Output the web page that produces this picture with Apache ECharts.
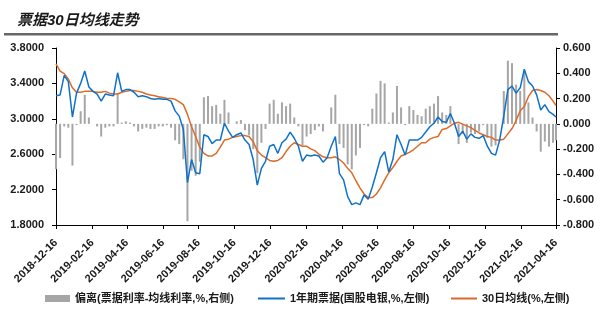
<!DOCTYPE html>
<html>
<head>
<meta charset="utf-8">
<style>
html,body{margin:0;padding:0;background:#fff;}
#chart{width:610px;height:322px;}
</style>
<script src="https://cdn.jsdelivr.net/npm/echarts@6/dist/echarts.min.js"></script>
</head>
<body>
<div id="chart"></div>
<script>
const dates = ['2018-12-16','2018-12-23','2018-12-30','2019-01-06','2019-01-13','2019-01-20','2019-01-27','2019-02-03','2019-02-10','2019-02-17','2019-02-24','2019-03-03','2019-03-10','2019-03-17','2019-03-24','2019-03-31','2019-04-07','2019-04-14','2019-04-21','2019-04-28','2019-05-05','2019-05-12','2019-05-19','2019-05-26','2019-06-02','2019-06-09','2019-06-16','2019-06-23','2019-06-30','2019-07-07','2019-07-14','2019-07-21','2019-07-28','2019-08-04','2019-08-11','2019-08-18','2019-08-25','2019-09-01','2019-09-08','2019-09-15','2019-09-22','2019-09-29','2019-10-06','2019-10-13','2019-10-20','2019-10-27','2019-11-03','2019-11-10','2019-11-17','2019-11-24','2019-12-01','2019-12-08','2019-12-15','2019-12-22','2019-12-29','2020-01-05','2020-01-12','2020-01-19','2020-01-26','2020-02-02','2020-02-09','2020-02-16','2020-02-23','2020-03-01','2020-03-08','2020-03-15','2020-03-22','2020-03-29','2020-04-05','2020-04-12','2020-04-19','2020-04-26','2020-05-03','2020-05-10','2020-05-17','2020-05-24','2020-05-31','2020-06-07','2020-06-14','2020-06-21','2020-06-28','2020-07-05','2020-07-12','2020-07-19','2020-07-26','2020-08-02','2020-08-09','2020-08-16','2020-08-23','2020-08-30','2020-09-06','2020-09-13','2020-09-20','2020-09-27','2020-10-04','2020-10-11','2020-10-18','2020-10-25','2020-11-01','2020-11-08','2020-11-15','2020-11-22','2020-11-29','2020-12-06','2020-12-13','2020-12-20','2020-12-27','2021-01-03','2021-01-10','2021-01-17','2021-01-24','2021-01-31','2021-02-07','2021-02-14','2021-02-21','2021-02-28','2021-03-07','2021-03-14','2021-03-21','2021-03-28','2021-04-04','2021-04-11','2021-04-16'];

// 1年期票据(国股电银,%,左侧)
const rate = [3.26,3.27,3.49,3.42,3.02,3.29,3.40,3.54,3.36,3.31,
3.28,3.20,3.28,3.27,3.26,3.52,3.31,3.33,3.33,3.30,
3.25,3.26,3.25,3.23,3.22,3.23,3.22,3.22,3.20,3.09,
3.03,2.88,2.28,2.54,2.39,2.38,2.82,2.80,2.72,2.76,
2.76,2.95,2.86,2.79,2.82,2.84,2.76,2.71,2.54,2.25,
2.44,2.52,2.69,2.71,2.61,2.73,2.77,2.85,2.78,2.69,
2.52,2.59,2.58,2.59,2.58,2.51,2.56,2.69,2.80,2.38,
2.31,2.12,2.03,2.05,2.03,2.14,2.09,2.23,2.39,2.56,
2.63,2.40,2.54,2.82,2.71,2.59,2.76,2.76,2.76,2.79,
2.85,2.91,2.95,3.02,2.97,2.96,3.06,2.95,2.80,2.86,
2.77,2.83,2.79,2.78,2.81,2.69,2.61,2.59,2.76,3.03,
3.33,3.37,3.29,3.35,3.56,3.42,3.37,3.27,3.10,3.16,
3.08,3.05,3.02];

// 30日均线(%,左侧)
const ma30 = [3.62,3.54,3.51,3.45,3.35,3.30,3.30,3.31,3.31,3.31,
3.30,3.30,3.31,3.29,3.28,3.28,3.30,3.31,3.32,3.32,
3.31,3.30,3.28,3.27,3.26,3.25,3.24,3.23,3.23,3.22,
3.19,3.16,3.05,2.91,2.80,2.68,2.61,2.58,2.58,2.61,
2.68,2.76,2.77,2.79,2.80,2.81,2.81,2.80,2.74,2.64,
2.59,2.56,2.53,2.52,2.53,2.56,2.63,2.69,2.73,2.71,
2.69,2.69,2.66,2.64,2.60,2.57,2.56,2.56,2.57,2.54,
2.50,2.44,2.39,2.30,2.22,2.15,2.11,2.11,2.15,2.22,
2.31,2.39,2.45,2.52,2.58,2.60,2.62,2.65,2.69,2.73,
2.73,2.77,2.79,2.80,2.88,2.89,2.92,2.95,2.96,2.94,
2.92,2.90,2.87,2.84,2.82,2.80,2.79,2.76,2.76,2.77,
2.83,2.89,2.98,3.09,3.14,3.25,3.32,3.33,3.32,3.30,
3.26,3.20,3.15];

// 偏离(票据利率-均线利率,%,右侧)
const dev = [-0.36,-0.27,-0.02,-0.03,-0.33,-0.01,0.10,0.23,0.05,0.00,
-0.02,-0.10,-0.03,-0.02,-0.02,0.24,0.01,0.02,0.01,-0.02,
-0.06,-0.04,-0.03,-0.04,-0.04,-0.02,-0.02,-0.01,-0.03,-0.13,
-0.16,-0.28,-0.77,-0.37,-0.41,-0.30,0.21,0.22,0.14,0.15,
0.08,0.19,0.09,0.00,0.02,0.03,-0.05,-0.09,-0.20,-0.39,
-0.15,-0.04,0.16,0.19,0.08,0.17,0.14,0.16,0.05,-0.02,
-0.17,-0.10,-0.08,-0.05,-0.02,-0.06,0.00,0.13,0.23,-0.16,
-0.19,-0.32,-0.36,-0.25,-0.19,-0.01,-0.02,0.12,0.24,0.34,
0.32,0.01,0.09,0.30,0.13,-0.01,0.14,0.11,0.07,0.06,
0.12,0.14,0.16,0.22,0.09,0.07,0.14,0.00,-0.16,-0.08,
-0.15,-0.07,-0.08,-0.06,-0.01,-0.11,-0.18,-0.17,0.00,0.26,
0.50,0.48,0.31,0.26,0.42,0.17,0.05,-0.06,-0.22,-0.14,
-0.18,-0.15,-0.13];

const xTickLabels = ['2018-12-16','2019-02-16','2019-04-16','2019-06-16','2019-08-16','2019-10-16','2019-12-16','2020-02-16','2020-04-16','2020-06-16','2020-08-16','2020-10-16','2020-12-16','2021-02-16','2021-04-16'];
const leftTicks = [1.8, 2.2, 2.6, 3.0, 3.4, 3.8];
const rightTicks = [-0.8, -0.6, -0.4, -0.2, 0, 0.2, 0.4, 0.6];

const names = ['偏离(票据利率-均线利率,%,右侧)', '1年期票据(国股电银,%,左侧)', '30日均线(%,左侧)'];

// day number (UTC-based, timezone independent)
function dn(s) { const p = s.split('-').map(Number); return Date.UTC(p[0], p[1] - 1, p[2]) / 86400000; }
function fmtDate(v) {
  const d = new Date(Math.round(v) * 86400000);
  const m = d.getUTCMonth() + 1, dd = d.getUTCDate();
  return d.getUTCFullYear() + '-' + (m < 10 ? '0' + m : m) + '-' + (dd < 10 ? '0' + dd : dd);
}
const xTicks = xTickLabels.map(dn);
const pair = arr => dates.map((d, i) => [dn(d), arr[i]]);

const FONT = "'Liberation Sans', Arial, 'Noto Sans CJK SC', sans-serif";
const txt = { fontFamily: FONT, fontSize: 11, fontWeight: 'bold', color: '#1a1a1a' };

const chart = echarts.init(document.getElementById('chart'), null, { renderer: 'canvas' });
chart.setOption({
  animation: false,
  backgroundColor: '#fff',
  title: {
    text: '票据30日均线走势', left: 12, top: 8,
    textStyle: { fontFamily: FONT, fontSize: 15, fontWeight: 'bold', fontStyle: 'italic', color: '#1a1a1a' }
  },
  graphic: [{ type: 'rect', shape: { x: 4, y: 33, width: 554, height: 2.5 }, style: { fill: '#666666' }, silent: true }],
  grid: { left: 56, right: 54, top: 48, bottom: 97 },
  legend: [
    { data: [names[0]], left: 45, top: 293, padding: 0, icon: 'rect', itemWidth: 25, itemHeight: 7, itemGap: 0, textStyle: txt },
    { data: [names[1]], left: 258, top: 293, padding: 0, icon: 'rect', itemWidth: 27, itemHeight: 2, itemGap: 0, textStyle: txt },
    { data: [names[2]], left: 451, top: 293, padding: 0, icon: 'rect', itemWidth: 26, itemHeight: 2, itemGap: 0, textStyle: txt }
  ],
  xAxis: {
    type: 'value',
    min: dn('2018-12-16'), max: dn('2021-04-16'),
    axisLine: { onZero: false, lineStyle: { color: '#000', width: 1 } },
    axisTick: { show: true, length: 4, customValues: xTicks, lineStyle: { color: '#000' } },
    axisLabel: Object.assign({ customValues: xTicks, rotate: 45, margin: 16, formatter: v => fmtDate(v), hideOverlap: false }, txt),
    splitLine: { show: false }
  },
  yAxis: [
    {
      type: 'value', min: 1.8, max: 3.8, position: 'left',
      axisLine: { show: true, lineStyle: { color: '#000', width: 1 } },
      axisTick: { show: true, length: 4, customValues: leftTicks, lineStyle: { color: '#000' } },
      axisLabel: Object.assign({ customValues: leftTicks, margin: 12, formatter: v => Number(v).toFixed(4) }, txt),
      splitLine: { show: false }
    },
    {
      type: 'value', min: -0.8, max: 0.6, position: 'right',
      axisLine: { show: true, lineStyle: { color: '#000', width: 1 } },
      axisTick: { show: true, length: 4, customValues: rightTicks, lineStyle: { color: '#000' } },
      axisLabel: Object.assign({ customValues: rightTicks, margin: 7, formatter: v => (Math.abs(v) < 1e-9 ? 0 : v).toFixed(3) }, txt),
      splitLine: { show: false }
    }
  ],
  series: [
    { name: names[0], type: 'bar', yAxisIndex: 1, data: pair(dev), barWidth: 2, itemStyle: { color: '#a6a6a6' }, z: 1 },
    { name: names[1], type: 'line', yAxisIndex: 0, data: pair(rate), symbol: 'none', lineStyle: { color: '#0f72c8', width: 1.5 }, itemStyle: { color: '#0f72c8' }, z: 3 },
    { name: names[2], type: 'line', yAxisIndex: 0, data: pair(ma30), symbol: 'none', lineStyle: { color: '#dc6b2a', width: 1.5 }, itemStyle: { color: '#dc6b2a' }, z: 2 }
  ]
});
</script>
</body>
</html>
